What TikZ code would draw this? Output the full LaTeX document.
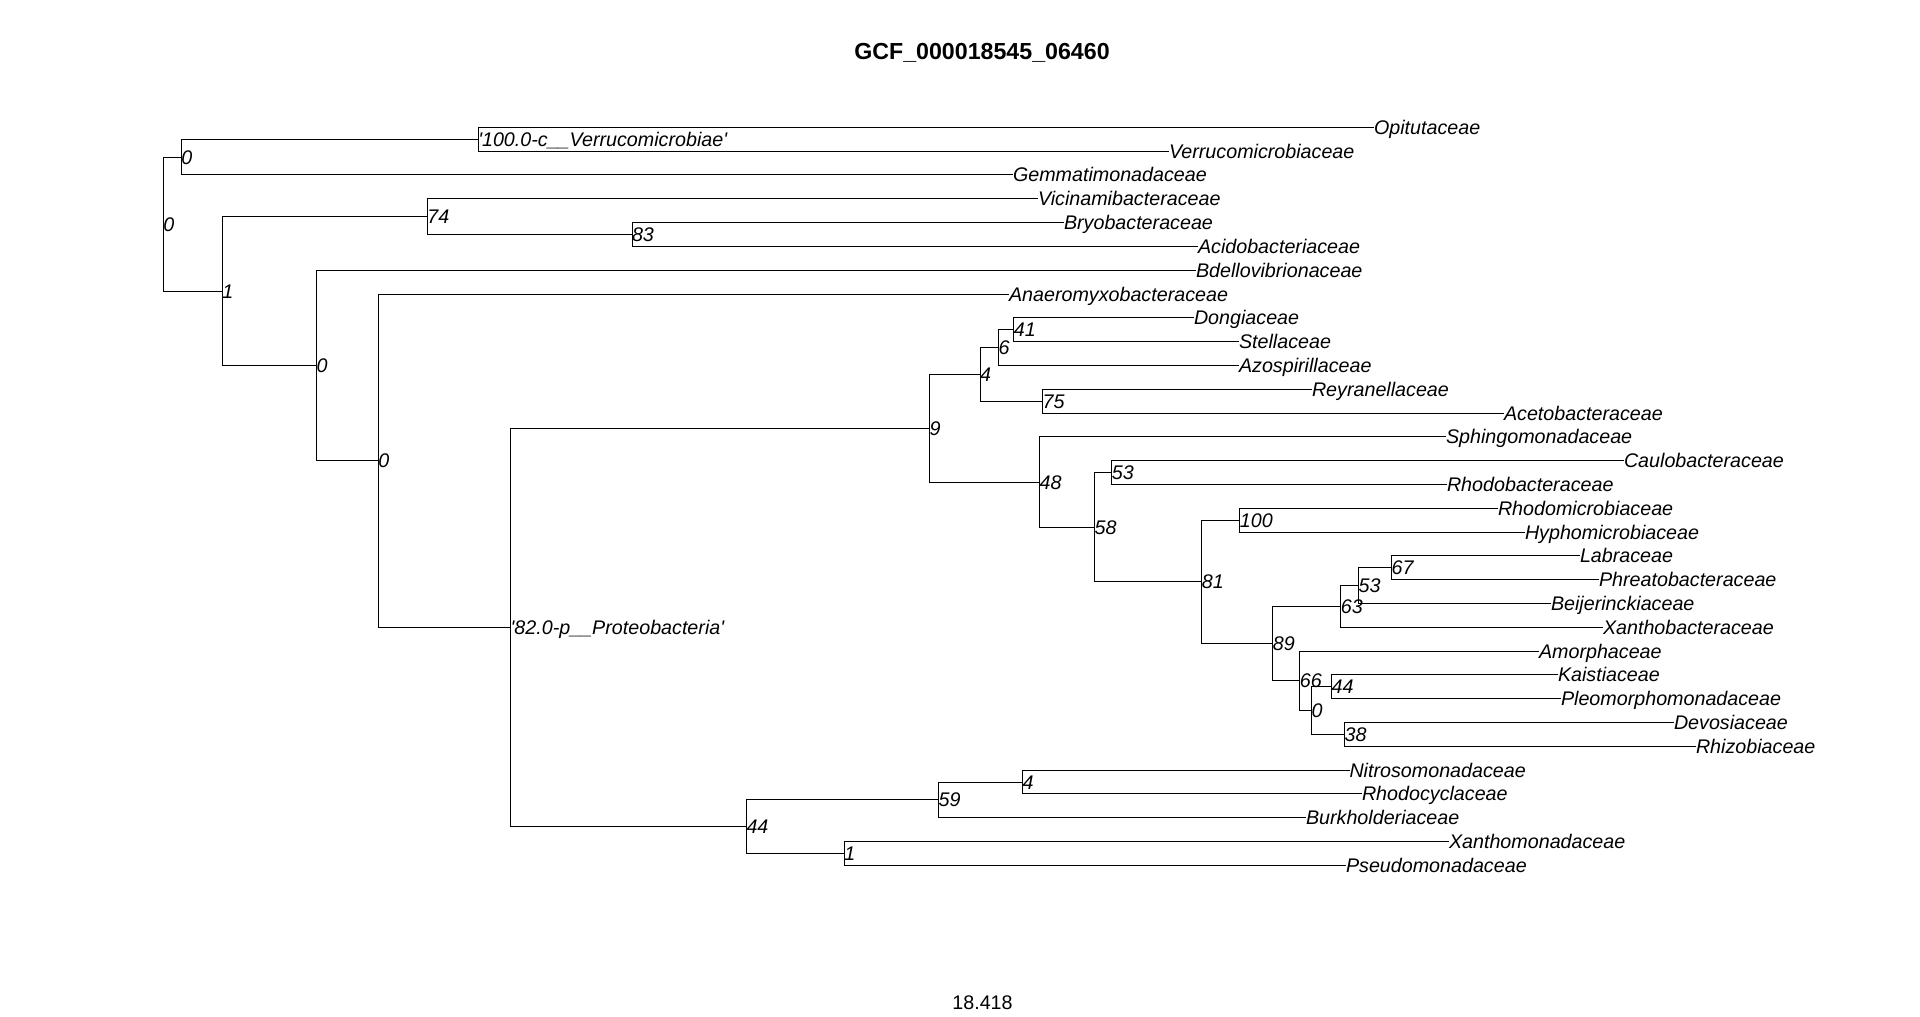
\documentclass[tikz,border=0pt]{standalone}
\usepackage{fontspec}
\setmainfont{Liberation Sans}
\begin{document}
\begin{tikzpicture}[x=1pt,y=-1pt,
  lab/.style={anchor=west, inner sep=0pt, outer sep=0pt,
    font=\fontsize{19.7}{20}\selectfont\itshape, text height=14.1pt, text depth=0pt},
  branch/.style={draw=black, line width=1pt, line join=miter},
  titlestyle/.style={inner sep=0pt, font=\fontsize{23.2}{24}\selectfont\bfseries, text height=16.6pt, text depth=0pt},
  scalestyle/.style={inner sep=0pt, font=\fontsize{19.7}{20}\selectfont, text height=14.1pt, text depth=0pt}]
\fill[white] (0,0) rectangle (1920,1017);
\useasboundingbox (0,0) rectangle (1920,1017);

\node[titlestyle] (title) at (982,51.3) {GCF\_000018545\_06460};
\node[scalestyle] (scale) at (982.5,1002) {18.418};

% leaves
\node[lab] (l1) at (1374,127.3) {Opitutaceae};
\node[lab] (l2) at (1169,151.1) {Verrucomicrobiaceae};
\node[lab] (l3) at (1013,174.9) {Gemmatimonadaceae};
\node[lab] (l4) at (1038,198.7) {Vicinamibacteraceae};
\node[lab] (l5) at (1064,222.5) {Bryobacteraceae};
\node[lab] (l6) at (1198,246.3) {Acidobacteriaceae};
\node[lab] (l7) at (1196,270.1) {Bdellovibrionaceae};
\node[lab] (l8) at (1009,294.0) {Anaeromyxobacteraceae};
\node[lab] (l9) at (1194,317.8) {Dongiaceae};
\node[lab] (l10) at (1239,341.6) {Stellaceae};
\node[lab] (l11) at (1239,365.4) {Azospirillaceae};
\node[lab] (l12) at (1312,389.2) {Reyranellaceae};
\node[lab] (l13) at (1504,413.0) {Acetobacteraceae};
\node[lab] (l14) at (1446,436.8) {Sphingomonadaceae};
\node[lab] (l15) at (1624,460.6) {Caulobacteraceae};
\node[lab] (l16) at (1447,484.4) {Rhodobacteraceae};
\node[lab] (l17) at (1498,508.2) {Rhodomicrobiaceae};
\node[lab] (l18) at (1525,532.0) {Hyphomicrobiaceae};
\node[lab] (l19) at (1580,555.8) {Labraceae};
\node[lab] (l20) at (1599,579.6) {Phreatobacteraceae};
\node[lab] (l21) at (1551,603.4) {Beijerinckiaceae};
\node[lab] (l22) at (1603,627.2) {Xanthobacteraceae};
\node[lab] (l23) at (1539,651.0) {Amorphaceae};
\node[lab] (l24) at (1558,674.8) {Kaistiaceae};
\node[lab] (l25) at (1561,698.6) {Pleomorphomonadaceae};
\node[lab] (l26) at (1674,722.5) {Devosiaceae};
\node[lab] (l27) at (1696,746.3) {Rhizobiaceae};
\node[lab] (l28) at (1349.5,770.1) {Nitrosomonadaceae};
\node[lab] (l29) at (1362,793.9) {Rhodocyclaceae};
\node[lab] (l30) at (1306,817.7) {Burkholderiaceae};
\node[lab] (l31) at (1449,841.5) {Xanthomonadaceae};
\node[lab] (l32) at (1346,865.3) {Pseudomonadaceae};

% internal nodes
\node[lab] (nR) at (163.3,224.0) {0};
\node[lab] (nA) at (181.3,157.05) {0};
\node[lab] (nC) at (478.3,139.2) {\textquotesingle 100.0-c\_\_Verrucomicrobiae\textquotesingle};
\node[lab] (nB) at (222.3,291.0) {1};
\node[lab] (nD) at (427.3,216.55) {74};
\node[lab] (nF) at (632.0,234.4) {83};
\node[lab] (nE) at (316.6,365.4) {0};
\node[lab] (nG) at (378.4,460.7) {0};
\node[lab] (nH) at (510.7,627.4) {\textquotesingle 82.0-p\_\_Proteobacteria\textquotesingle};
\node[lab] (nI) at (929.6,428.15) {9};
\node[lab] (nK) at (980.2,374.3) {4};
\node[lab] (nM) at (998.6,347.55) {6};
\node[lab] (nO) at (1013.9,329.7) {41};
\node[lab] (nN) at (1042.7,401.1) {75};
\node[lab] (nL) at (1039.6,482.0) {48};
\node[lab] (nP) at (1094.7,527.2) {58};
\node[lab] (nQ) at (1111.9,472.5) {53};
\node[lab] (nS) at (1201.9,581.85) {81};
\node[lab] (nT) at (1239.9,520.1) {100};
\node[lab] (nU) at (1272.9,643.6) {89};
\node[lab] (nV) at (1340.9,606.4) {63};
\node[lab] (nX) at (1358.6,585.55) {53};
\node[lab] (nY) at (1391.7,567.7) {67};
\node[lab] (nW) at (1299.9,680.8) {66};
\node[lab] (nZ) at (1311.5,710.55) {0};
\node[lab] (nAA) at (1331.7,686.7) {44};
\node[lab] (nAB) at (1344.6,734.4) {38};
\node[lab] (nJ) at (746.5,826.6) {44};
\node[lab] (nAC) at (938.7,799.85) {59};
\node[lab] (nAE) at (1022.5,782.0) {4};
\node[lab] (nAD) at (844.4,853.4) {1};

% branches
\foreach \p/\c in {nR/nA, nR/nB, nA/nC, nA/l3, nC/l1, nC/l2,
  nB/nD, nB/nE, nD/l4, nD/nF, nF/l5, nF/l6,
  nE/l7, nE/nG, nG/l8, nG/nH, nH/nI, nH/nJ,
  nI/nK, nI/nL, nK/nM, nK/nN, nM/nO, nM/l11, nO/l9, nO/l10,
  nN/l12, nN/l13, nL/l14, nL/nP, nP/nQ, nP/nS, nQ/l15, nQ/l16,
  nS/nT, nS/nU, nT/l17, nT/l18, nU/nV, nU/nW, nV/nX, nV/l22,
  nX/nY, nX/l21, nY/l19, nY/l20, nW/l23, nW/nZ, nZ/nAA, nZ/nAB,
  nAA/l24, nAA/l25, nAB/l26, nAB/l27,
  nJ/nAC, nJ/nAD, nAC/nAE, nAC/l30, nAE/l28, nAE/l29, nAD/l31, nAD/l32}
  \draw[branch] (\p.west) |- (\c.west);
\end{tikzpicture}
\end{document}
